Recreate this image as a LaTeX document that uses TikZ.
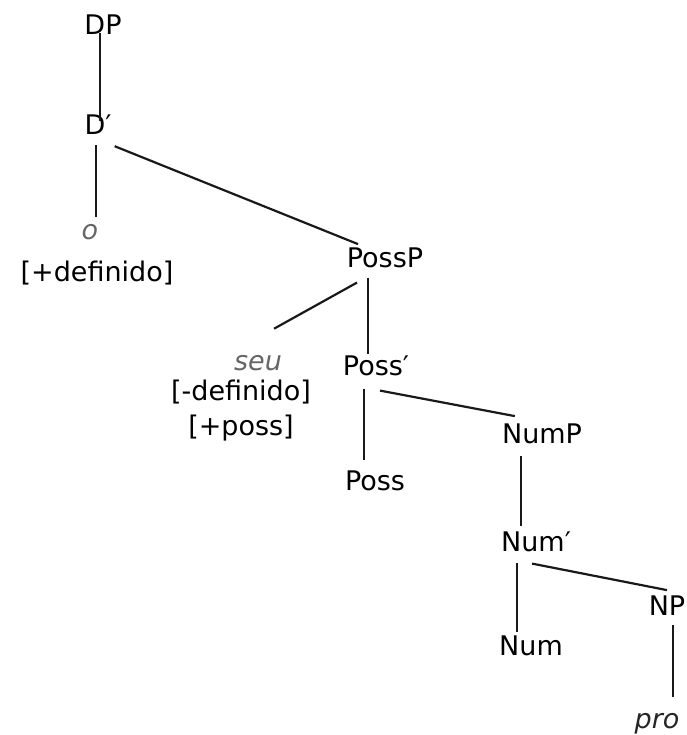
\documentclass[tikz,border=0pt]{standalone}
\usepackage{fontspec}
\setmainfont{DejaVu Sans}
\usepackage{tikz}
\usetikzlibrary{calc}

\tikzset{
  cat/.style={anchor=base, inner sep=3pt, font=\fontsize{27}{32}\selectfont},
  lex/.style={cat, font=\fontsize{27}{32}\selectfont\itshape, text=black!60},
  feat/.style={cat},
  branch/.style={line width=2.2pt, black!90},
}

\begin{document}
\begin{tikzpicture}[x=1pt, y=-1pt]
  \useasboundingbox (0,0) rectangle (686,735);

  % categories (placed on their baselines)
  \node[cat] (DP)     at (103,35)  {DP};
  \node[cat] (Dbar)   at (98,135)  {D′};
  \node[lex] (o)      at (90,240)  {o};
  \node[feat] (def)   at (97,281)  {[+definido]};
  \node[cat] (PossP)  at (385,267) {PossP};
  \node[lex] (seu)    at (258,370) {seu};
  \node[feat] (indef) at (241,400) {[-definido]};
  \node[feat] (poss)  at (241,435) {[+poss]};
  \node[cat] (Possbar) at (376,375) {Poss′};
  \node[cat] (Poss)   at (375,490) {Poss};
  \node[cat] (NumP)   at (542,443) {NumP};
  \node[cat] (Numbar) at (536,551) {Num′};
  \node[cat] (Num)    at (531,655) {Num};
  \node[cat] (NP)     at (667,615) {NP};
  \node[lex, text=black!85] (pro) at (657,728) {pro};

  % branches
  \draw[branch] ([xshift=-3pt,yshift=5pt]DP.south) -- ([xshift=-3pt,yshift=-9pt]DP.south |- Dbar.north);
  \draw[branch] ([xshift=-2pt,yshift=-7pt]Dbar.south) -- ([xshift=-2pt,yshift=5pt]Dbar.south |- o.north);
  \draw[branch] ([yshift=-8pt]Dbar.south east) -- ([xshift=-27pt]PossP.north);

  \draw[branch] ([xshift=-28pt,yshift=-12pt]PossP.south) -- ([xshift=-11pt,yshift=23pt]seu.north east);
  \draw[branch] ([xshift=-17pt,yshift=-7pt]PossP.south) -- ([xshift=-17pt,yshift=-2pt]PossP.south |- Possbar.north);

  \draw[branch] ([xshift=-12pt,yshift=-10pt]Possbar.south) -- ([xshift=-12pt,yshift=7pt]Possbar.south |- Poss.north);
  \draw[branch] ([xshift=4pt,yshift=-12pt]Possbar.south) -- ([xshift=16pt,yshift=4pt]NumP.north west);

  \draw[branch] ([xshift=-21pt,yshift=-9pt]NumP.south) -- ([xshift=-21pt,yshift=2pt]NumP.south |- Numbar.north);
  \draw[branch] ([xshift=-19pt,yshift=-8pt]Numbar.south) -- ([xshift=-19pt]Numbar.south |- Num.north);
  \draw[branch] ([xshift=-4pt,yshift=-9pt]Numbar.south) -- ([yshift=2pt]NP.north);

  \draw[branch] ([xshift=6pt,yshift=-7pt]NP.south) -- ([xshift=6pt,yshift=13pt]NP.south |- pro.north);
\end{tikzpicture}
\end{document}
